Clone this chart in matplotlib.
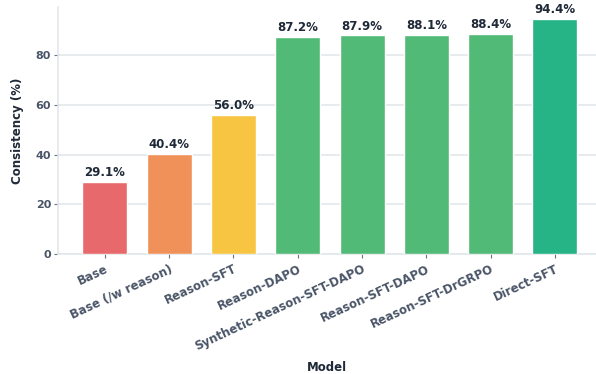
import matplotlib
matplotlib.use("Agg")
import matplotlib.pyplot as plt

models = ["Base", "Base (/w reason)", "Reason-SFT", "Reason-DAPO",
          "Synthetic-Reason-SFT-DAPO", "Reason-SFT-DAPO",
          "Reason-SFT-DrGRPO", "Direct-SFT"]
consistency = [29.1, 40.4, 56.0, 87.2, 87.9, 88.1, 88.4, 94.4]
colors = ["#E8696B", "#F0915A", "#F8C542", "#52BA77", "#52BA77",
          "#52BA77", "#52BA77", "#26B386"]

plt.rcParams["font.family"] = "DejaVu Sans"
tick_color = "#4A5568"
text_color = "#1F2937"

fig = plt.figure(figsize=(5.96, 3.74), dpi=100)
ax = fig.add_axes([58 / 596, 1 - 254 / 374, 1 - 58 / 596, (254 - 7) / 374])

x = list(range(len(models)))
bars = ax.bar(x, consistency, width=0.7, color=colors,
              edgecolor="white", linewidth=1.0, zorder=3)

for xi, v in zip(x, consistency):
    ax.annotate(f"{v:.1f}%", (xi, v), xytext=(0, 2), textcoords="offset points",
                ha="center", va="bottom", fontsize=8.5, fontweight="bold",
                color=text_color, zorder=4)

ax.set_xlim(-0.73, 7.64)
ax.set_ylim(0, 99.3)
ax.set_yticks([0, 20, 40, 60, 80])
ax.set_xticks(x)
ax.set_xticklabels(models, rotation=25, ha="right", rotation_mode="anchor",
                   fontsize=8.5, fontweight="bold", color=tick_color)
for lbl in ax.get_yticklabels():
    lbl.set_fontweight("bold")
    lbl.set_fontsize(8)
    lbl.set_color(tick_color)

ax.tick_params(axis="both", length=3, width=0.8, color="#6B7280")
ax.tick_params(axis="x", pad=3)
ax.tick_params(axis="y", pad=2)

ax.grid(axis="y", color="#E2E5EA", linewidth=1.1, zorder=0)
ax.set_axisbelow(True)
for side in ["top", "right"]:
    ax.spines[side].set_visible(False)
for side in ["left", "bottom"]:
    ax.spines[side].set_color("#E2E5EA")
    ax.spines[side].set_linewidth(1.1)

ax.set_ylabel("Consistency (%)", fontsize=8.5, fontweight="bold",
              color=text_color, labelpad=8)
ax.set_xlabel("Model", fontsize=8.5, fontweight="bold", color=text_color)
ax.xaxis.set_label_coords(0.5, -(361 - 254) / (254 - 7))

fig.savefig("out.png", dpi=100)
